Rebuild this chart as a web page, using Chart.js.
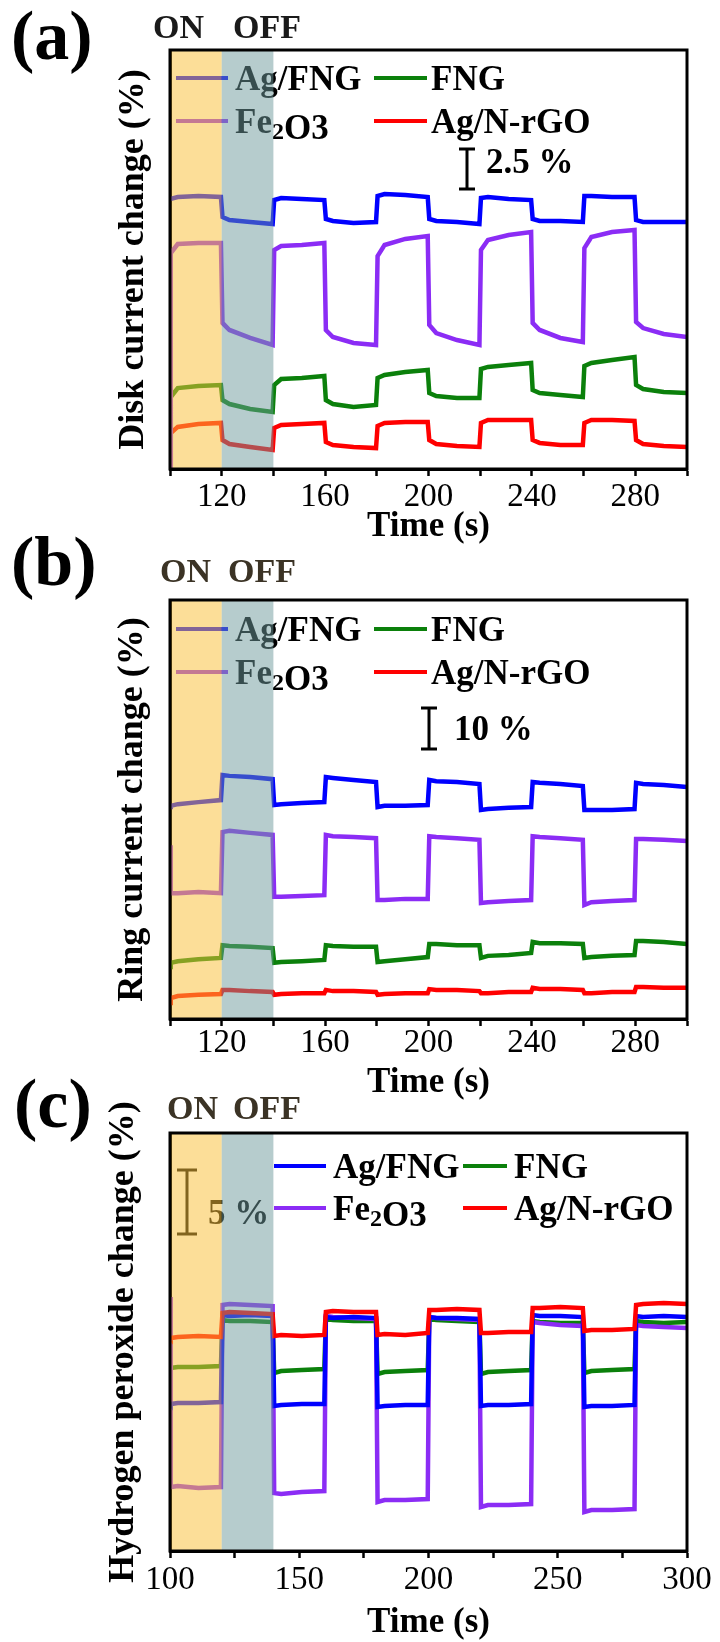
<!DOCTYPE html>
<html>
<head>
<meta charset="utf-8">
<script src="https://cdn.jsdelivr.net/npm/chart.js@4.4.1/dist/chart.umd.min.js"></script>
<style>
  body { margin: 0; background: #fff; width: 720px; height: 1642px; position: relative; overflow: hidden; }
  canvas { position: absolute; left: 0; }
</style>
</head>
<body>
<canvas id="chartA" width="720" height="550" style="top:0px"></canvas>
<canvas id="chartB" width="720" height="570" style="top:530px"></canvas>
<canvas id="chartC" width="720" height="567" style="top:1075px"></canvas>
<script>
// sampling times (s), shared by every trace
const times = [100,
  100.3, 103, 111, 119.7,
  120.3, 123, 131, 139.7,
  140.3, 143, 151, 159.7,
  160.3, 163, 171, 179.7,
  180.3, 183, 191, 199.7,
  200.3, 203, 211, 219.7,
  220.3, 223, 231, 239.7,
  240.3, 243, 251, 259.7,
  260.3, 263, 271, 279.7,
  280.3, 283, 291, 300];

const lightOn = [100, 120];
const lightOff = [120, 140];

// (a) disk current change (%), offset traces
const diskAgFNG = [16.88,
  16.88, 17.0, 17.06, 17.0,
  15.75, 15.56, 15.44, 15.31,
  16.81, 16.94, 16.88, 16.81,
  15.63, 15.5, 15.38, 15.44,
  17.06, 17.19, 17.13, 17.0,
  15.63, 15.5, 15.44, 15.31,
  16.94, 17.0, 16.88, 16.81,
  15.63, 15.5, 15.5, 15.44,
  17.06, 17.06, 17.0, 17.0,
  15.56, 15.44, 15.44, 15.44];
const diskFe2O3 = [0,
  13.5, 14.06, 14.13, 14.13,
  9.13, 8.69, 8.19, 7.75,
  13.69, 13.94, 14.0, 14.13,
  8.69, 8.25, 7.88, 7.75,
  13.31, 14.0, 14.38, 14.56,
  9.0, 8.5, 8.06, 7.75,
  13.69, 14.31, 14.63, 14.81,
  9.13, 8.69, 8.19, 7.94,
  13.81, 14.5, 14.81, 14.94,
  9.19, 8.81, 8.44, 8.25];
const diskFNG = [0,
  4.5, 5.06, 5.19, 5.25,
  4.31, 4.06, 3.75, 3.56,
  5.25, 5.63, 5.69, 5.81,
  4.31, 4.06, 3.88, 4.0,
  5.69, 5.88, 6.06, 6.19,
  4.75, 4.56, 4.44, 4.44,
  6.25, 6.38, 6.5, 6.63,
  4.94, 4.75, 4.63, 4.5,
  6.44, 6.63, 6.81, 7.0,
  5.25, 5.0, 4.81, 4.75];
const diskAgNrGO = [0,
  2.25, 2.63, 2.81, 2.88,
  1.81, 1.56, 1.38, 1.19,
  2.56, 2.75, 2.81, 2.88,
  1.69, 1.5, 1.38, 1.31,
  2.69, 2.88, 2.94, 2.94,
  1.81, 1.56, 1.44, 1.38,
  2.88, 3.06, 3.06, 3.06,
  1.81, 1.63, 1.5, 1.5,
  2.88, 3.06, 3.06, 3.0,
  1.81, 1.56, 1.44, 1.38];

// (b) ring current change (%)
const ringAgFNG = [51.7,
  52.0, 52.4, 52.9, 53.4,
  59.5, 59.3, 59.0, 58.5,
  52.2, 52.4, 52.7, 52.9,
  59.0, 58.8, 58.3, 57.8,
  51.7, 52.0, 52.0, 52.2,
  58.3, 58.0, 57.8, 57.3,
  51.0, 51.2, 51.5, 51.7,
  57.8, 57.6, 57.3, 56.8,
  51.0, 51.0, 51.0, 51.2,
  57.6, 57.3, 57.1, 56.6];
const ringFe2O3 = [42.4,
  30.7, 30.7, 31.0, 30.7,
  45.6, 45.9, 45.4, 44.9,
  29.8, 29.8, 30.0, 30.2,
  44.9, 44.6, 44.4, 44.1,
  29.0, 29.0, 29.3, 29.3,
  44.6, 44.4, 44.1, 43.7,
  28.3, 28.5, 28.8, 29.0,
  44.6, 44.4, 44.1, 43.7,
  27.8, 28.5, 28.8, 29.0,
  43.9, 43.9, 43.7, 43.4];
const ringFNG = [12.7,
  13.7, 14.1, 14.6, 14.9,
  18.0, 17.8, 17.6, 17.3,
  13.7, 13.9, 14.1, 14.4,
  18.0, 17.8, 17.6, 17.6,
  13.9, 14.1, 14.6, 15.1,
  18.3, 18.3, 18.0, 18.0,
  14.9, 15.4, 15.6, 16.1,
  18.8, 18.5, 18.5, 18.3,
  14.9, 15.1, 15.4, 15.6,
  19.0, 19.0, 18.8, 18.3];
const ringAgNrGO = [3.9,
  5.1, 5.6, 5.9, 6.1,
  7.1, 7.1, 6.8, 6.6,
  5.9, 6.1, 6.3, 6.3,
  7.1, 6.8, 6.8, 6.6,
  5.9, 6.1, 6.3, 6.3,
  7.3, 7.1, 7.1, 6.8,
  6.3, 6.3, 6.6, 6.6,
  7.6, 7.3, 7.3, 7.1,
  6.3, 6.3, 6.6, 6.6,
  7.8, 7.8, 7.6, 7.6];

// (c) hydrogen peroxide change (%)
const perAgNrGO = [16.72,
  16.64, 16.72, 16.80, 16.72,
  18.59, 18.67, 18.59, 18.51,
  16.80, 16.88, 16.80, 16.88,
  18.67, 18.75, 18.67, 18.67,
  16.88, 16.96, 16.88, 17.03,
  18.83, 18.83, 18.91, 18.83,
  17.03, 17.03, 17.11, 17.11,
  18.98, 18.98, 19.06, 18.98,
  17.19, 17.27, 17.27, 17.35,
  19.22, 19.30, 19.38, 19.30];
const perAgFNG = [11.56,
  11.48, 11.56, 11.56, 11.64,
  18.44, 18.36, 18.44, 18.36,
  11.33, 11.41, 11.48, 11.48,
  18.28, 18.20, 18.28, 18.20,
  11.25, 11.33, 11.41, 11.41,
  18.28, 18.20, 18.20, 18.13,
  11.33, 11.41, 11.41, 11.48,
  18.44, 18.36, 18.36, 18.28,
  11.25, 11.33, 11.33, 11.41,
  18.36, 18.28, 18.36, 18.28];
const perFe2O3 = [19.84,
  5.00, 5.08, 4.92, 5.00,
  19.22, 19.30, 19.22, 19.14,
  4.53, 4.45, 4.61, 4.69,
  18.36, 18.28, 18.20, 18.13,
  3.83, 3.98, 3.98, 4.06,
  18.28, 18.20, 18.13, 18.05,
  3.44, 3.59, 3.59, 3.67,
  17.89, 17.81, 17.66, 17.58,
  3.05, 3.20, 3.20, 3.28,
  17.66, 17.58, 17.50, 17.42];
const perFNG = [14.22,
  14.30, 14.38, 14.38, 14.45,
  18.05, 17.97, 17.97, 17.89,
  13.91, 14.06, 14.14, 14.22,
  18.13, 18.05, 17.97, 17.97,
  13.83, 13.98, 14.06, 14.14,
  18.13, 18.05, 17.97, 17.89,
  13.83, 13.98, 14.06, 14.14,
  17.97, 17.89, 17.81, 17.81,
  13.91, 14.06, 14.14, 14.22,
  17.97, 17.89, 17.81, 17.89];

const colors = {
  'Ag/FNG': '#0000ff',
  'Fe2O3': '#8b2cf5',
  'FNG': '#0b800b',
  'Ag/N-rGO': '#ff0000'
};

const serif = '"Liberation Serif", "Times New Roman", serif';
Chart.defaults.font.family = serif;
Chart.defaults.color = '#000';

// legend, scale bar, on/off bands and frame are drawn by hand
const decor = {
  id: 'decor',
  afterDatasetsDraw(chart, args, o) {
    const {ctx, chartArea: area, scales: {x, y}} = chart;
    ctx.save();
    ctx.textAlign = 'left';
    ctx.textBaseline = 'alphabetic';

    o.legend.forEach(item => {
      ctx.strokeStyle = colors[item.label];
      ctx.lineWidth = 4;
      ctx.beginPath();
      ctx.moveTo(item.x0, item.y);
      ctx.lineTo(item.x1, item.y);
      ctx.stroke();
      ctx.fillStyle = '#000';
      const base = item.y + 12;
      if (item.label === 'Fe2O3') {
        ctx.font = 'bold 35px ' + serif;
        ctx.fillText('Fe', item.tx, base);
        let cx = item.tx + ctx.measureText('Fe').width;
        ctx.font = 'bold 24px ' + serif;
        ctx.fillText('2', cx, base + 6);
        cx += ctx.measureText('2').width;
        ctx.font = 'bold 35px ' + serif;
        ctx.fillText('O3', cx, base + 6);
      } else {
        ctx.font = 'bold 35px ' + serif;
        ctx.fillText(item.label, item.tx, base);
      }
    });

    const b = o.bar;
    const len = y.getPixelForValue(0) - y.getPixelForValue(b.span);
    ctx.strokeStyle = '#000';
    ctx.lineWidth = 3;
    ctx.beginPath();
    ctx.moveTo(b.x, b.bottom - len);
    ctx.lineTo(b.x, b.bottom);
    ctx.moveTo(b.x - b.cap / 2, b.bottom - len);
    ctx.lineTo(b.x + b.cap / 2, b.bottom - len);
    ctx.moveTo(b.x - b.cap / 2, b.bottom);
    ctx.lineTo(b.x + b.cap / 2, b.bottom);
    ctx.stroke();
    ctx.fillStyle = '#000';
    ctx.font = 'bold 35px ' + serif;
    ctx.fillText(b.text, b.tx, b.ty + 12);

    // translucent bands laid over the traces
    const h = area.bottom - area.top;
    const x0 = x.getPixelForValue(lightOn[0]);
    const x1 = x.getPixelForValue(lightOn[1]);
    const x2 = x.getPixelForValue(lightOff[1]);
    ctx.fillStyle = 'rgba(250,192,58,0.52)';
    ctx.fillRect(x0, area.top, x1 - x0, h);
    ctx.fillStyle = 'rgba(109,153,155,0.5)';
    ctx.fillRect(x1, area.top, x2 - x1, h);

    ctx.strokeStyle = '#000';
    ctx.lineWidth = 3;
    ctx.strokeRect(area.left, area.top, area.right - area.left, h);
    ctx.restore();
  },
  afterDraw(chart, args, o) {
    const ctx = chart.ctx;
    ctx.save();
    ctx.textAlign = 'left';
    ctx.textBaseline = 'alphabetic';
    ctx.fillStyle = '#000';
    ctx.font = 'bold 70px ' + serif;
    ctx.fillText(o.letter, o.letterX, o.letterY);
    ctx.fillStyle = o.onOffColor;
    ctx.font = 'bold 34px ' + serif;
    ctx.fillText('ON', o.onX, o.onOffY + 12);
    ctx.fillText('OFF', o.offX, o.onOffY + 12);
    ctx.restore();
  }
};

function panel(id, p) {
  new Chart(document.getElementById(id), {
    type: 'line',
    data: {
      datasets: p.series.map(s => ({
        label: s[0],
        data: times.map((t, i) => ({x: t, y: s[1][i]})),
        borderColor: colors[s[0]],
        borderWidth: 4.5,
        pointRadius: 0,
        tension: 0
      }))
    },
    options: {
      responsive: false,
      animation: false,
      devicePixelRatio: 1,
      layout: {padding: {top: p.top, right: 33, left: 0, bottom: 0}},
      plugins: {
        legend: {display: false},
        tooltip: {enabled: false},
        decor: p.decor
      },
      scales: {
        x: {
          type: 'linear',
          min: 100,
          max: 300,
          ticks: {
            stepSize: p.step,
            autoSkip: false,
            maxRotation: 0,
            padding: p.tickPad,
            color: '#000',
            font: {size: 33, lineHeight: 1},
            callback: v => (v % p.labelEvery === 0 ? v : '')
          },
          grid: {drawOnChartArea: false, tickLength: 7, tickWidth: 2.5, tickColor: '#000'},
          border: {color: '#000', width: 3},
          title: {
            display: true,
            text: 'Time (s)',
            color: '#000',
            font: {size: 35, weight: 'bold', lineHeight: 1},
            padding: {top: 0, bottom: p.titlePad}
          },
          afterFit: s => { s.height = p.xHeight; }
        },
        y: {
          min: 0,
          max: p.yMax,
          ticks: {display: false},
          grid: {display: false},
          border: {color: '#000', width: 3},
          title: {
            display: true,
            text: p.yTitle,
            color: '#000',
            font: {size: 36, weight: 'bold', lineHeight: 1},
            padding: {top: p.yTitleX - 18, bottom: 0}
          },
          afterFit: s => { s.width = 170; }
        }
      }
    },
    plugins: [decor]
  });
}

const legendAB = (r1, r2) => [
  {label: 'Ag/FNG', x0: 176, x1: 228, tx: 235, y: r1},
  {label: 'FNG', x0: 374, x1: 427, tx: 431, y: r1},
  {label: 'Fe2O3', x0: 176, x1: 228, tx: 235, y: r2},
  {label: 'Ag/N-rGO', x0: 374, x1: 427, tx: 431, y: r2}
];

panel('chartA', {
  series: [['Ag/FNG', diskAgFNG], ['Fe2O3', diskFe2O3], ['FNG', diskFNG], ['Ag/N-rGO', diskAgNrGO]],
  top: 50, xHeight: 81, yMax: 26.19, step: 20, labelEvery: 40,
  tickPad: 4.5, titlePad: 6, yTitle: 'Disk current change (%)', yTitleX: 134,
  decor: {
    letter: '(a)', letterX: 11, letterY: 59,
    onX: 153, offX: 233, onOffY: 26, onOffColor: '#1a1a1a',
    legend: legendAB(78, 121),
    bar: {x: 467, bottom: 189, cap: 16, span: 2.5, text: '2.5 %', tx: 486, ty: 161}
  }
});

panel('chartB', {
  series: [['Ag/FNG', ringAgFNG], ['Fe2O3', ringFe2O3], ['FNG', ringFNG], ['Ag/N-rGO', ringAgNrGO]],
  top: 70, xHeight: 81, yMax: 102.2, step: 20, labelEvery: 40,
  tickPad: 0.5, titlePad: 0, yTitle: 'Ring current change (%)', yTitleX: 133,
  decor: {
    letter: '(b)', letterX: 11, letterY: 55,
    onX: 160, offX: 228, onOffY: 40, onOffColor: '#3b3325',
    legend: legendAB(99, 142),
    bar: {x: 429, bottom: 219, cap: 16, span: 10, text: '10 %', tx: 454, ty: 198}
  }
});

panel('chartC', {
  series: [['Ag/N-rGO', perAgNrGO], ['Ag/FNG', perAgFNG], ['Fe2O3', perFe2O3], ['FNG', perFNG]],
  top: 58, xHeight: 91, yMax: 32.66, step: 25, labelEvery: 50,
  tickPad: 5.5, titlePad: 2, yTitle: 'Hydrogen peroxide change (%)', yTitleX: 124,
  decor: {
    letter: '(c)', letterX: 14, letterY: 52,
    onX: 167, offX: 233, onOffY: 32, onOffColor: '#3b3325',
    legend: [
      {label: 'Ag/FNG', x0: 274, x1: 326, tx: 333, y: 91},
      {label: 'FNG', x0: 463, x1: 507, tx: 514, y: 91},
      {label: 'Fe2O3', x0: 274, x1: 326, tx: 333, y: 133},
      {label: 'Ag/N-rGO', x0: 463, x1: 507, tx: 514, y: 133}
    ],
    bar: {x: 187, bottom: 159, cap: 20, span: 5, text: '5 %', tx: 208, ty: 137}
  }
});
</script>
</body>
</html>
